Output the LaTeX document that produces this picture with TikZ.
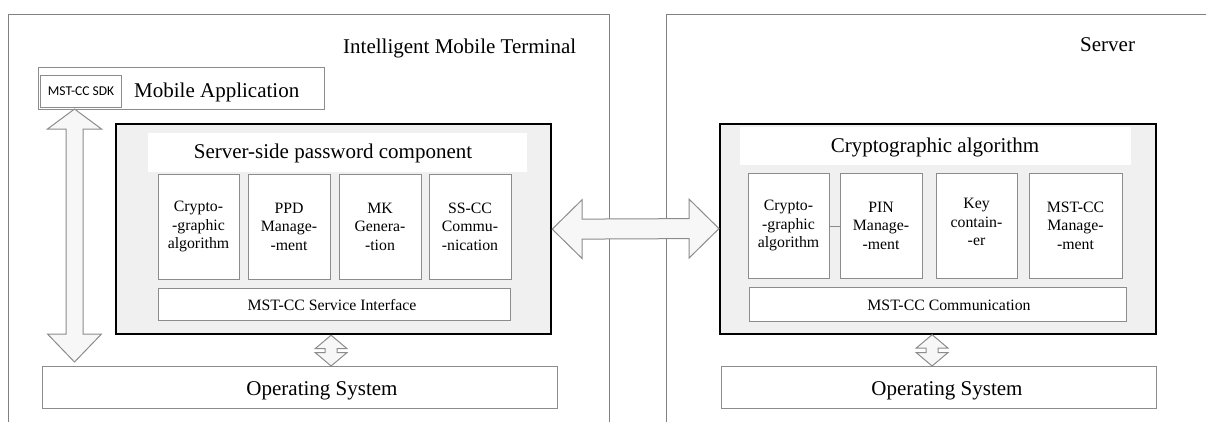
\documentclass[tikz,border=0pt]{standalone}
\usepackage{fontspec}
\setmainfont{Liberation Serif}
\newfontfamily\sdkfont{Carlito}
\usetikzlibrary{calc}
\definecolor{framegray}{HTML}{808080}
\definecolor{boxgray}{HTML}{8C8C8C}
\definecolor{panelfill}{HTML}{F0F0F0}
\definecolor{arrowfill}{HTML}{F7F7F7}
\begin{document}
\begin{tikzpicture}[x=1pt,y=-1pt,
  frame/.style={draw=framegray,line width=1pt},
  plainbox/.style={draw=boxgray,line width=1pt,fill=white,inner sep=0pt,
    anchor=north west},
  panel/.style={draw=black,line width=2.2pt,fill=panelfill,inner sep=0pt,
    anchor=north west},
  band/.style={fill=white,inner sep=0pt,anchor=north west},
  subbox/.style={draw=boxgray,line width=1pt,fill=white,inner sep=0pt,
    align=center,font=\fontsize{15.8}{18.5}\selectfont},
  subtext/.style={inner sep=0pt,align=center,font=\fontsize{15.8}{18.5}\selectfont},
  bigtext/.style={inner sep=0pt,font=\fontsize{21}{24}\selectfont},
  midtext/.style={inner sep=0pt,font=\fontsize{15.8}{18}\selectfont},
  fatarrow/.style={draw=boxgray,line width=1pt,fill=arrowfill,line join=miter}]

\useasboundingbox (0,0) rectangle (1206,421);

% outer frames of the two devices
\draw[frame] (8,425) -- (8,14) -- (609,14) -- (609,425);
\draw[frame] (666,425) -- (666,14) -- (1210,14);
\node[bigtext,anchor=base west] (termtitle) at (343,53) {Intelligent Mobile Terminal};
\node[bigtext,anchor=base west] (servtitle) at (1080,51) {Server};

% mobile application with the SDK
\node[plainbox,minimum width=286,minimum height=42] (app) at (38,67) {};
\node[plainbox,minimum width=81,minimum height=32] (sdk) at (40,75)
  {\sdkfont\fontsize{13.5}{15}\selectfont MST-CC SDK};
\node[bigtext,anchor=base west] (apptext) at (134,97) {Mobile Application};

% operating systems
\node[plainbox,minimum width=515,minimum height=42] (los) at (42,366) {};
\node[bigtext,anchor=base] (lostext) at (322,395) {Operating System};
\node[plainbox,minimum width=435,minimum height=42] (ros) at (721,366) {};
\node[bigtext,anchor=base] (rostext) at (947,395) {Operating System};

% server-side password component
\node[panel,minimum width=435,minimum height=210] (lpanel) at (115,123) {};
\node[band,minimum width=379,minimum height=39] (lband) at (148,133) {};
\node[bigtext,anchor=base] (ltitle) at (333,158) {Server-side password component};
\node[subbox,minimum width=81,minimum height=105] (l1) at (198.5,226.5) {Crypto-\\-graphic\\algorithm};
\node[subbox,minimum width=82,minimum height=105] (l2) at (289,226.5) {PPD\\Manage-\\-ment};
\node[subbox,minimum width=82,minimum height=105] (l3) at (380,226.5) {MK\\Genera-\\-tion};
\node[subbox,minimum width=82,minimum height=105] (l4) at (470,226.5) {SS-CC\\Commu-\\-nication};
\node[plainbox,minimum width=352,minimum height=32] (lsi) at (158,288) {};
\node[midtext,anchor=base] (lsitext) at (332,310) {MST-CC Service Interface};

% server cryptographic component
\node[panel,minimum width=436,minimum height=210] (rpanel) at (719,122.5) {};
\node[band,minimum width=391,minimum height=38] (rband) at (740,127) {};
\node[bigtext,anchor=base] (rtitle) at (935,152) {Cryptographic algorithm};
\node[subbox,minimum width=81,minimum height=105] (r1) at (788.5,225.5) {Crypto-\\-graphic\\algorithm};
\node[subbox,minimum width=82,minimum height=105] (r2) at (881,225.5) {PIN\\Manage-\\-ment};
\node[subbox,minimum width=81,minimum height=105] (r3) at (976.5,225.5) {};
\node[subtext] (r3text) at (976.5,222) {Key\\contain-\\-er};
\node[subbox,minimum width=93,minimum height=105] (r4) at (1075.5,225.5) {MST-CC\\Manage-\\-ment};
\draw[boxgray,line width=1pt] (r1.east |- 0,226) -- (r2.west |- 0,226);
\node[plainbox,minimum width=377,minimum height=34] (rcomm) at (749,287) {};
\node[midtext,anchor=base] (rcommtext) at (949,310) {MST-CC Communication};

% wide two-way arrow between the components
\coordinate (ha) at (lpanel.east);
\coordinate (hb) at (rpanel.west);
\path[fatarrow] (ha) -- ($(ha)+(30,-29.5)$) -- ($(ha)+(30,-10)$) -- ($(hb)+(-30,-10)$)
  -- ($(hb)+(-30,-29.5)$) -- (hb) -- ($(hb)+(-30,29.5)$) -- ($(hb)+(-30,10)$)
  -- ($(ha)+(30,10)$) -- ($(ha)+(30,29.5)$) -- cycle;

% tall two-way arrow from the SDK down to the operating system
\coordinate (vt) at ($(sdk.south)+(-6.5,1)$);
\coordinate (vb) at ($(vt |- los.north)+(0,-4)$);
\path[fatarrow] (vt) -- ($(vt)+(27,20)$) -- ($(vt)+(8.5,20)$) -- ($(vb)+(8.5,-28)$)
  -- ($(vb)+(27,-28)$) -- (vb) -- ($(vb)+(-27,-28)$) -- ($(vb)+(-8.5,-28)$)
  -- ($(vt)+(-8.5,20)$) -- ($(vt)+(-27,20)$) -- cycle;

% short two-way arrows from the components to the operating systems
\foreach \p/\o/\dx in {lpanel/los/-2.5, rpanel/ros/-6} {
  \coordinate (st) at ($(\p.south)+(\dx,0)$);
  \coordinate (sb) at (st |- \o.north);
  \path[fatarrow] (st) -- ($(st)+(16,13.5)$) -- ($(st)+(6,13.5)$) -- ($(sb)+(6,-13.5)$)
    -- ($(sb)+(16,-13.5)$) -- (sb) -- ($(sb)+(-16,-13.5)$) -- ($(sb)+(-6,-13.5)$)
    -- ($(st)+(-6,13.5)$) -- ($(st)+(-16,13.5)$) -- cycle;
}
\end{tikzpicture}
\end{document}
